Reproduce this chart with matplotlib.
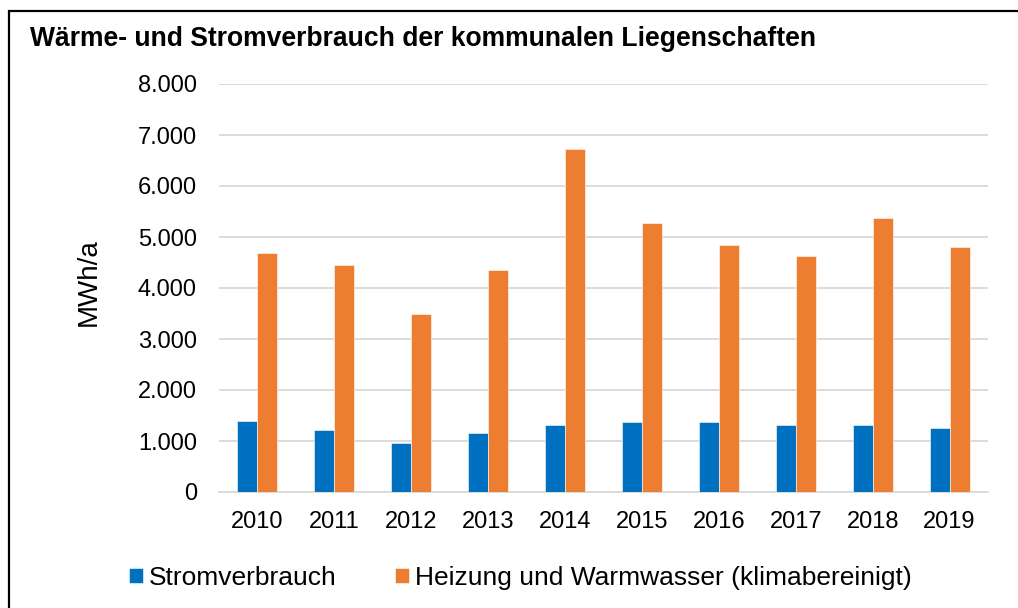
import matplotlib
matplotlib.use("Agg")
import matplotlib.pyplot as plt
from matplotlib.patches import Rectangle

years = ["2010", "2011", "2012", "2013", "2014", "2015", "2016", "2017", "2018", "2019"]
strom = [1400, 1215, 965, 1160, 1320, 1375, 1365, 1305, 1320, 1260]
waerme = [4685, 4460, 3485, 4355, 6725, 5270, 4840, 4630, 5375, 4810]
yticks = [0, 1000, 2000, 3000, 4000, 5000, 6000, 7000, 8000]
ytick_labels = ["0", "1.000", "2.000", "3.000", "4.000", "5.000", "6.000", "7.000", "8.000"]

title = "Wärme- und Stromverbrauch der kommunalen Liegenschaften"
ylabel = "MWh/a"
legend_labels = ["Stromverbrauch", "Heizung und Warmwasser (klimabereinigt)"]

BLUE = "#0070C0"
ORANGE = "#ED7D31"
GRID = "#D9D9D9"

plt.rcParams['font.family'] = ['Liberation Sans', 'DejaVu Sans']

W, H = 1018, 608
fig = plt.figure(figsize=(W / 100, H / 100), dpi=100)
fig.patch.set_facecolor("white")

ax = fig.add_axes([219 / W, 1 - 492 / H, (988 - 219) / W, (492 - 84) / H])

x = list(range(len(years)))
bw = 0.26
b1 = ax.bar([i - bw / 2 for i in x], strom, width=bw, color=BLUE, edgecolor="white", linewidth=0.4, zorder=3)
b2 = ax.bar([i + bw / 2 for i in x], waerme, width=bw, color=ORANGE, edgecolor="white", linewidth=0.4, zorder=3)

ax.set_xlim(-0.5, len(years) - 0.5)
ax.set_ylim(0, 8000)
ax.set_yticks(yticks)
ax.set_yticklabels(ytick_labels)
ax.set_xticks(x)
ax.set_xticklabels(years)
ax.tick_params(axis="y", length=0, pad=16, labelsize=17, colors="black")
ax.tick_params(axis="x", length=0, pad=14, labelsize=17, colors="black")
ax.grid(axis="y", color=GRID, linewidth=1.3, zorder=0)
ax.set_axisbelow(True)
for s in ["top", "right", "left"]:
    ax.spines[s].set_visible(False)
ax.spines["bottom"].set_color(GRID)
ax.spines["bottom"].set_linewidth(1.3)

ax.set_ylabel(ylabel, fontsize=20, color="black")
ax.yaxis.set_label_coords((102 - 219) / (988 - 219), (492 - 282) / (492 - 84))

fig.text(30 / W, 1 - 46 / H, title, fontsize=19.1, fontweight="bold", ha="left", va="baseline", color="black")

leg = fig.legend([b1, b2], legend_labels, loc="center left", bbox_to_anchor=(129 / W, 1 - 578 / H),
                 ncol=2, frameon=False, fontsize=19, handlelength=0.53, handleheight=0.53,
                 handletextpad=0.23, columnspacing=2.2, borderpad=0, borderaxespad=0)

fig.add_artist(Rectangle((8.5 / W, -0.1), 1.2, 1 - 11 / H + 0.1, transform=fig.transFigure,
                         fill=False, edgecolor="black", linewidth=1.6))

fig.savefig("out.png", dpi=100)
